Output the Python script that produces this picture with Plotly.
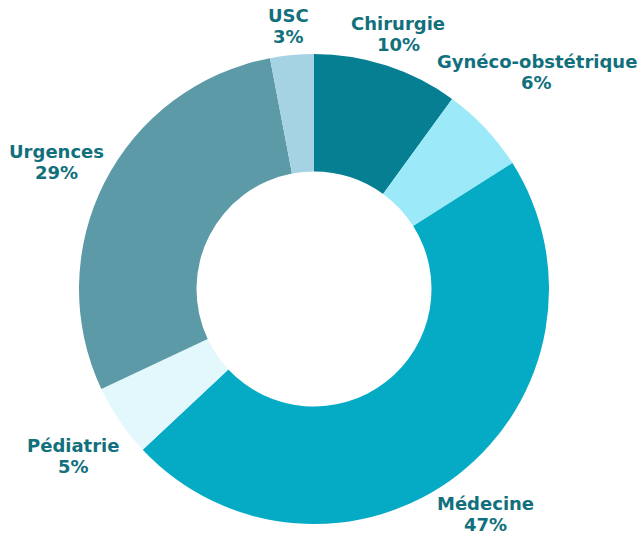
import math
import plotly.graph_objects as go

labels = ["Chirurgie", "Gynéco-obstétrique", "Médecine", "Pédiatrie", "Urgences", "USC"]
values = [10, 6, 47, 5, 29, 3]
colors = ["#077f93", "#9ceaf9", "#05aac4", "#e3f8fc", "#5b9aa6", "#a6d3e4"]

W, H = 641, 537
cx, cy, R = 314, 289, 235
FONT = dict(family="DejaVu Sans", size=18, color="#12707c")
CHAR_W = 0.63 * FONT["size"]
LINE = 21
BLOCK_H = 2 * LINE
GAP = 12
VSHIFT = 4  # visual centring of the text block

fig = go.Figure(go.Pie(
    labels=labels,
    values=values,
    sort=False,
    direction="clockwise",
    rotation=0,
    hole=0.5,
    marker=dict(colors=colors, line=dict(width=0)),
    textinfo="none",
    hoverinfo="label+percent",
    domain=dict(x=[(cx - R) / W, (cx + R) / W], y=[(H - cy - R) / H, (H - cy + R) / H]),
    showlegend=False,
))

# outside labels placed along each slice's mid-angle
total = sum(values)
cum = 0
annotations = []
for lab, v in zip(labels, values):
    mid = (cum + v / 2) / total * 2 * math.pi
    cum += v
    s, c = math.sin(mid), math.cos(mid)
    w = max(len(lab), len(f"{v}%")) * CHAR_W
    proj = math.sqrt((w / 2 * s) ** 2 + (BLOCK_H / 2 * c) ** 2)
    d = R + GAP + proj
    px = cx + d * s
    py = cy - d * c + VSHIFT
    px = min(max(px, w / 2 + 2), W - w / 2 - 2)
    for txt, dy in ((f"<b>{lab}</b>", -LINE / 2), (f"<b>{v}%</b>", LINE / 2)):
        annotations.append(dict(
            x=px / W, y=1 - (py + dy) / H, xref="paper", yref="paper",
            text=txt, showarrow=False, xanchor="center", yanchor="middle",
            align="center", font=FONT,
        ))

fig.update_layout(
    width=W, height=H,
    margin=dict(l=0, r=0, t=0, b=0),
    paper_bgcolor="white",
    plot_bgcolor="white",
    annotations=annotations,
)
fig.write_html(
    "out.html",
    config={"displayModeBar": False},
    post_script="document.body.style.margin='0';",
)
